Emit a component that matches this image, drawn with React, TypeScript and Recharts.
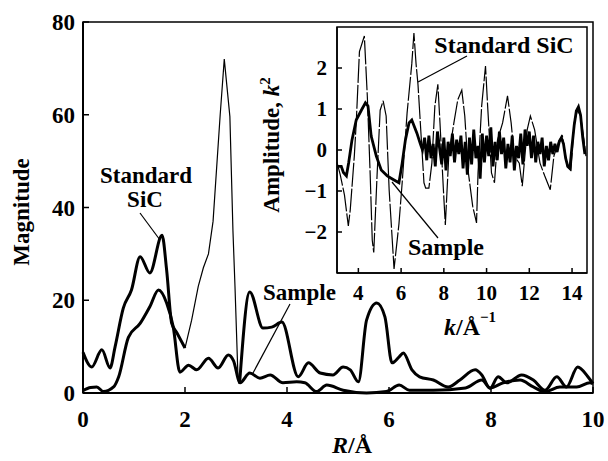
import { LineChart, Line, XAxis, YAxis, ReferenceArea } from 'recharts'

const FONT = '"Liberation Serif", "DejaVu Serif", serif'

// main panel: FT magnitude against R (Å)
const stdR = [0, 0.17, 0.37, 0.53, 0.63, 0.79, 0.95, 1.12, 1.31, 1.55, 1.64, 1.74, 1.84, 2.0, 2.13, 2.26, 2.36, 2.46, 2.55, 2.69, 2.77, 2.88, 2.94, 2.98, 3.04, 3.07, 3.27, 3.53, 3.7, 3.9, 4.22, 4.42, 4.65, 4.9, 5.1, 5.24, 5.4, 5.56, 5.76, 5.92, 6.06, 6.2, 6.28, 6.45, 6.6, 6.87, 7.16, 7.39, 7.69, 7.82, 7.98, 8.14, 8.31, 8.6, 8.83, 9.06, 9.29, 9.48, 9.7, 9.9, 10]
const stdMag = [8.8, 5.6, 9.3, 5.4, 10, 18.3, 22.2, 29.4, 25.9, 34, 26.5, 15, 13, 9.7, 15.7, 23, 27, 30, 37, 60, 72, 59.6, 35, 23, 3, 2, 21.8, 14, 14.2, 15.3, 3.5, 6.5, 4.3, 3.9, 5.6, 5, 2.4, 15.7, 19.4, 16.4, 6.5, 7.8, 8.6, 5, 3.5, 2.8, 1.3, 2.8, 5, 3.9, 1, 3.5, 2.2, 3.9, 2.8, 0.6, 3.5, 1.3, 5.6, 3.5, 2]
const sampleR = [0, 0.15, 0.27, 0.4, 0.6, 0.7, 0.89, 1.12, 1.31, 1.48, 1.64, 1.77, 1.9, 2.07, 2.23, 2.46, 2.65, 2.85, 2.95, 3.08, 3.27, 3.47, 3.67, 3.92, 4.19, 4.35, 4.58, 4.78, 5.1, 5.56, 5.95, 6.2, 6.4, 6.87, 7.5, 7.82, 7.98, 8.24, 8.57, 8.83, 9.06, 9.35, 9.68, 9.94, 10]
const sampleMag = [0.5, 1.2, 1.3, 0.3, 1.3, 3.5, 12, 15, 18.6, 22.2, 19.4, 14.2, 4.5, 6, 5, 7.5, 5.4, 8.2, 7, 2.2, 4.3, 3.2, 3.9, 2.2, 2.4, 2.2, 0.3, 1.7, 0.6, 0, 0.3, 1.7, 0.6, 0.6, 1.1, 2.8, 1.1, 2.2, 2.8, 1.3, 0.3, 1.3, 1.3, 2.2, 2]
const rTicks = [0, 2, 4, 6, 8, 10]
const magTicks = [0, 20, 40, 60, 80]
// the steep Si-Si peak prints as a thin stroke in the original
const thinFrom = 2.0
const thinTo = 3.07

// inset: k2-weighted oscillations
const stdK = [3.0, 3.15, 3.35, 3.53, 3.62, 3.81, 3.9, 4.05, 4.28, 4.42, 4.55, 4.65, 4.72, 4.88, 5.02, 5.16, 5.3, 5.44, 5.67, 5.9, 6.05, 6.28, 6.5, 6.6, 6.7, 6.79, 6.9, 7.07, 7.15, 7.3, 7.44, 7.58, 7.72, 7.82, 7.98, 8.07, 8.23, 8.47, 8.65, 8.84, 8.98, 9.15, 9.35, 9.53, 9.6, 9.77, 9.95, 10.05, 10.23, 10.37, 10.51, 10.75, 10.98, 11.15, 11.3, 11.53, 11.67, 11.9, 12.05, 12.25, 12.5, 12.72, 12.98, 13.15, 13.4, 13.55, 13.77, 13.95, 14.1, 14.25, 14.4, 14.56, 14.65]
const stdAmp = [-0.3, -0.6, -1.1, -1.85, -1.46, -0.15, 0.66, 2.4, 2.78, 1.3, -0.56, -2.2, -2.5, -0.56, 0.97, 1.2, 0.83, -0.97, -2.9, -1.8, -0.8, 0.9, 2.1, 2.85, 2.1, 1.6, 0.66, -0.8, -0.93, -0.93, -0.32, 1.07, 1.6, 0.66, -0.97, -1.83, -0.15, 0.66, 1.22, 1.46, 0.83, -0.56, -1.37, -1.78, -0.56, 1.07, 2.05, 1.07, -0.56, -0.8, 0.24, 0.66, 1.32, 0.66, -0.15, -0.32, -0.88, 0.49, 0.83, 0.49, -0.32, -0.63, -0.97, -0.15, 0.24, 0.34, -0.39, -0.49, 0.66, 0.97, 0.83, 0.24, -0.15]
const sampleK = [3.0, 3.2, 3.3, 3.44, 3.55, 3.7, 3.9, 4.14, 4.33, 4.45, 4.6, 4.84, 5.07, 5.35, 5.67, 5.9, 6.05, 6.2, 6.37, 6.5, 6.74, 6.9,
  7.0, 7.1, 7.2, 7.3, 7.4, 7.5, 7.6, 7.7, 7.8, 7.9,
  8.0, 8.1, 8.2, 8.3, 8.4, 8.5, 8.6, 8.7, 8.8, 8.9,
  9.0, 9.1, 9.2, 9.3, 9.4, 9.5, 9.6, 9.7, 9.8, 9.9,
  10.0, 10.1, 10.2, 10.3, 10.4, 10.5, 10.6, 10.7, 10.8, 10.9,
  11.0, 11.1, 11.2, 11.3, 11.4, 11.5, 11.6, 11.7, 11.8, 11.9,
  12.0, 12.1, 12.2, 12.3, 12.4, 12.5, 12.6, 12.7, 12.8, 12.9,
  13.0, 13.1, 13.2, 13.3, 13.4, 13.5, 13.6, 13.7, 13.8, 13.9,
  14.0, 14.1, 14.2, 14.3, 14.4, 14.5, 14.6]
const sampleAmp = [-0.4, -0.4, -0.55, -0.63, -0.3, 0.24, 0.73, 0.97, 1.15, 1.07, 0.34, -0.15, -0.49, -0.63, -0.73, -0.8, -0.32, 0.24, 0.66, 0.73, 0.41, 0.15,
  0.0, 0.3, -0.25, 0.35, -0.2, 0.15, -0.4, 0.45, 0.05, -0.35,
  0.3, -0.5, 0.2, -0.15, 0.4, -0.3, 0.25, -0.1, 0.35, -0.45,
  0.2, -0.6, 0.3, -0.35, 0.5, -0.2, 0.1, -0.7, 0.4, -0.3,
  0.35, -0.15, 0.55, -0.4, 0.2, -0.25, 0.45, -0.1, 0.3, -0.45,
  0.15, -0.3, 0.35, -0.5, 0.1, -0.2, 0.4, -0.35, 0.5, 0.1,
  0.45, -0.2, 0.35, -0.3, 0.2, -0.1, 0.3, -0.4, 0.1, -0.25,
  0.2, -0.1, 0.15, -0.05, 0.2, 0.3, 0.15, -0.2, -0.4, -0.45,
  0.1, 0.6, 0.95, 1.05, 0.85, 0.3, -0.1]
const kTicks = [4, 6, 8, 10, 12, 14]
const ampTicks = [-2, -1, 0, 1, 2]

const stdThick = stdR.map((r, i) => ({ r, v: r > thinFrom && r < thinTo ? null : stdMag[i] }))
const stdThin = stdR
  .map((r, i) => ({ r, v: stdMag[i] }))
  .filter((p) => p.r >= thinFrom && p.r <= thinTo)
const sampleMain = sampleR.map((r, i) => ({ r, v: sampleMag[i] }))
const stdInset = stdK.map((k, i) => ({ k, v: stdAmp[i] }))
const sampleInset = sampleK.map((k, i) => ({ k, v: sampleAmp[i] }))

const minus = (v: number) => (v < 0 ? '\u2212' + Math.abs(v) : String(v))

function MainChart() {
  const tick = { fill: '#000', fontSize: 23, fontFamily: FONT, fontWeight: 'bold' }
  return (
    <LineChart width={608} height={461} margin={{ top: 22, right: 15, left: 0, bottom: 0 }}>
      <ReferenceArea x1={0} x2={10} y1={0} y2={80} fill="none" stroke="#000" strokeWidth={1.5} ifOverflow="visible" />
      <XAxis
        type="number"
        dataKey="r"
        domain={[0, 10]}
        ticks={rTicks}
        interval={0}
        height={68}
        tickSize={-6}
        tickMargin={24}
        axisLine={{ stroke: '#000', strokeWidth: 2 }}
        tickLine={{ stroke: '#000', strokeWidth: 1.5 }}
        tick={tick}
      />
      <YAxis
        type="number"
        domain={[0, 80]}
        ticks={magTicks}
        interval={0}
        width={83}
        tickSize={-6}
        tickMargin={14}
        axisLine={{ stroke: '#000', strokeWidth: 2 }}
        tickLine={{ stroke: '#000', strokeWidth: 1.5 }}
        tick={tick}
      />
      <Line data={stdThin} dataKey="v" type="linear" stroke="#000" strokeWidth={1.2} dot={false} isAnimationActive={false} />
      <Line data={stdThick} dataKey="v" type="monotone" stroke="#000" strokeWidth={3} dot={false} connectNulls={false} isAnimationActive={false} />
      <Line data={sampleMain} dataKey="v" type="monotone" stroke="#000" strokeWidth={3} dot={false} isAnimationActive={false} />
    </LineChart>
  )
}

function InsetChart() {
  const tick = { fill: '#000', fontSize: 21, fontFamily: FONT, fontWeight: 'bold' }
  return (
    <LineChart width={345} height={345} margin={{ top: 27, right: 8, left: 0, bottom: 0 }}>
      <ReferenceArea x1={3} x2={14.7} y1={-3} y2={3} fill="#fff" fillOpacity={0} stroke="#000" strokeWidth={1.5} ifOverflow="visible" />
      <XAxis
        type="number"
        dataKey="k"
        domain={[3, 14.7]}
        ticks={kTicks}
        interval={0}
        height={72}
        tickSize={-5}
        tickMargin={17}
        axisLine={{ stroke: '#000', strokeWidth: 1.5 }}
        tickLine={{ stroke: '#000', strokeWidth: 1.5 }}
        tick={tick}
      />
      <YAxis
        type="number"
        domain={[-3, 3]}
        ticks={ampTicks}
        interval={0}
        width={87}
        tickSize={-5}
        tickMargin={15}
        tickFormatter={minus}
        axisLine={{ stroke: '#000', strokeWidth: 1.5 }}
        tickLine={{ stroke: '#000', strokeWidth: 1.5 }}
        tick={tick}
      />
      <Line data={stdInset} dataKey="v" type="linear" stroke="#000" strokeWidth={1.2} strokeDasharray="24 2" dot={false} isAnimationActive={false} />
      <Line data={sampleInset} dataKey="v" type="linear" stroke="#000" strokeWidth={2.8} dot={false} isAnimationActive={false} />
    </LineChart>
  )
}

function Annotations() {
  const txt = { fontFamily: FONT, fontWeight: 'bold' as const, fill: '#000' }
  return (
    <svg width={608} height={461} style={{ position: 'absolute', left: 0, top: 0, pointerEvents: 'none' }}>
      {/* main panel */}
      <text {...txt} fontSize={23} x={29} y={212} textAnchor="middle" transform="rotate(-90 29 212)">Magnitude</text>
      <text {...txt} fontSize={24} x={352} y={453} textAnchor="middle">
        <tspan fontStyle="italic">R</tspan>/Å
      </text>
      <text {...txt} fontSize={23} x={146} y={183} textAnchor="middle">Standard</text>
      <text {...txt} fontSize={23} x={145} y={207} textAnchor="middle">SiC</text>
      <line x1={140} y1={213} x2={160} y2={240} stroke="#000" strokeWidth={1.2} />
      <text {...txt} fontSize={23} x={263} y={300}>Sample</text>
      <line x1={290} y1={304} x2={253} y2={373} stroke="#000" strokeWidth={1.2} />
      {/* inset */}
      <text {...txt} fontSize={23} x={279} y={145} textAnchor="middle" transform="rotate(-90 279 145)">
        Amplitude, <tspan fontStyle="italic">k</tspan>
        <tspan dy={-9} fontSize={15}>2</tspan>
      </text>
      <text {...txt} fontSize={24} x={470} y={335} textAnchor="middle">
        <tspan fontStyle="italic">k</tspan>/Å<tspan dy={-13} fontSize={15}>{'\u2212'}1</tspan>
      </text>
      <text {...txt} fontSize={24} x={504} y={53} textAnchor="middle">Standard SiC</text>
      <line x1={467} y1={56} x2={418} y2={82} stroke="#000" strokeWidth={1.2} />
      <text {...txt} fontSize={24} x={408} y={255}>Sample</text>
      <line x1={392} y1={182} x2={438} y2={238} stroke="#000" strokeWidth={1.2} />
    </svg>
  )
}

export default function App() {
  return (
    <div style={{ position: 'absolute', left: 0, top: 0, width: 608, height: 461, background: '#fff' }}>
      <div style={{ position: 'absolute', left: 0, top: 0 }}>
        <MainChart />
      </div>
      <div style={{ position: 'absolute', left: 250, top: 0 }}>
        <InsetChart />
      </div>
      <Annotations />
    </div>
  )
}
